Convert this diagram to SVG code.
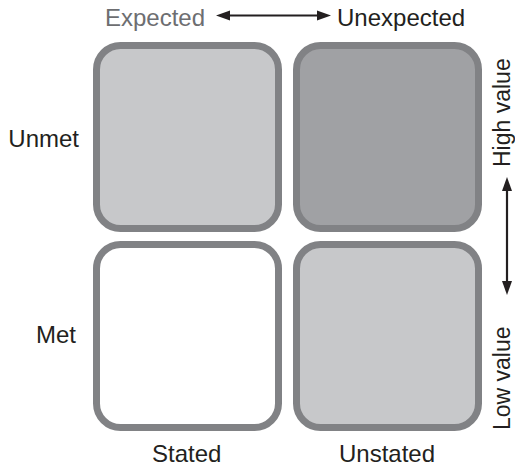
<svg xmlns="http://www.w3.org/2000/svg" width="515" height="467" viewBox="0 0 515 467">
  <style>
    .box { stroke: #818285; stroke-width: 7; }
    .light { fill: #c7c8ca; }
    .dark { fill: #a0a1a4; }
    .blank { fill: #ffffff; }
    .lbl { font-family: "Liberation Sans", Arial, Helvetica, sans-serif; font-size: 24px; fill: #231f20; }
    .side { font-size: 23px; }
    .muted { fill: #6d6e71; }
    .axis { stroke: #231f20; stroke-width: 2.2; fill: none; }
    .head { fill: #231f20; }
  </style>
  <rect width="515" height="467" fill="#ffffff"/>

  <!-- quadrants -->
  <g id="q-expected-unmet">
    <rect class="box light" x="96.5" y="45.5" width="182" height="183" rx="24"/>
  </g>
  <g id="q-unexpected-unmet">
    <rect class="box dark" x="296.5" y="45.5" width="182" height="183" rx="24"/>
  </g>
  <g id="q-stated-met">
    <rect class="box blank" x="96.5" y="244.5" width="182" height="183" rx="24"/>
  </g>
  <g id="q-unstated-met">
    <rect class="box light" x="296.5" y="244.5" width="182" height="183" rx="24"/>
  </g>

  <!-- axis labels -->
  <g id="labels">
    <text class="lbl muted" x="105" y="26">Expected</text>
    <text class="lbl" x="337" y="26">Unexpected</text>
    <text class="lbl" x="79" y="147" text-anchor="end">Unmet</text>
    <text class="lbl" x="76" y="343" text-anchor="end">Met</text>
    <text class="lbl" x="152" y="462">Stated</text>
    <text class="lbl" x="339" y="462">Unstated</text>
    <text class="lbl side" x="510" y="167" transform="rotate(-90 510 167)">High value</text>
    <text class="lbl side" x="510" y="430" transform="rotate(-90 510 430)">Low value</text>
  </g>

  <!-- double-headed axis arrows -->
  <g id="connectors">
    <line class="axis" x1="228" y1="15.5" x2="319" y2="15.5"/>
    <path class="head" d="M216,15.5 L230,10.5 L230,20.5 Z"/>
    <path class="head" d="M331,15.5 L317,10.5 L317,20.5 Z"/>
    <line class="axis" x1="507" y1="189" x2="507" y2="283"/>
    <path class="head" d="M507,177 L502,191 L512,191 Z"/>
    <path class="head" d="M507,295 L502,281 L512,281 Z"/>
  </g>
</svg>
